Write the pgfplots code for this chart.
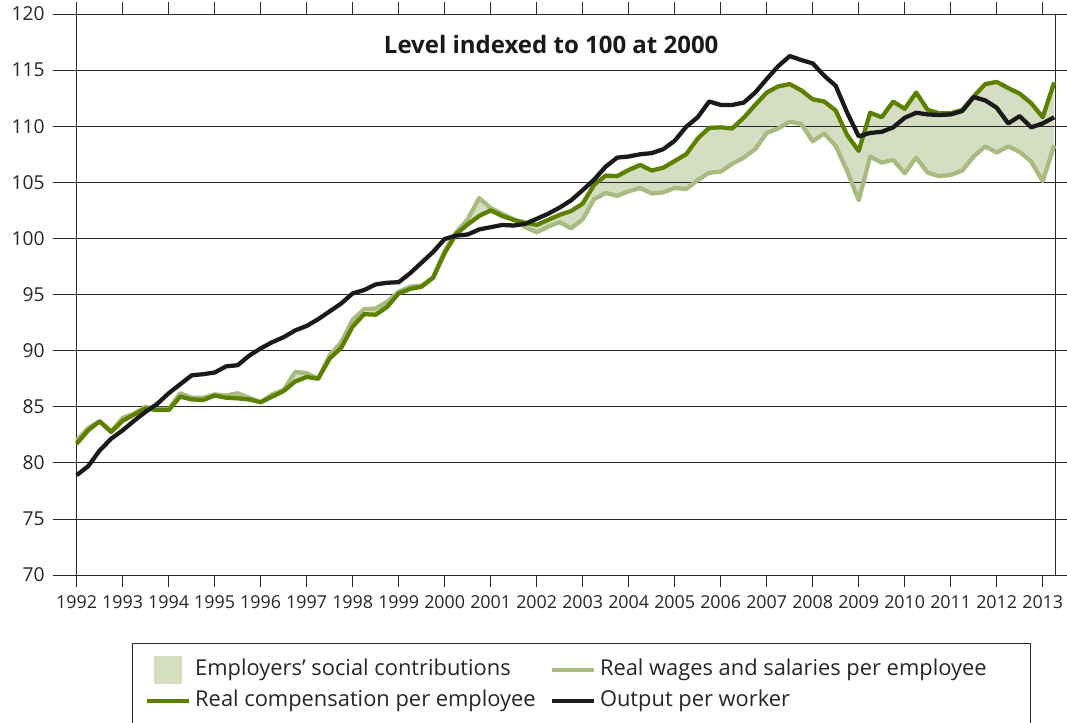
\documentclass[border=0pt]{standalone}
\usepackage{pgfplots}
\pgfplotsset{compat=1.18}
\usepackage{pgfplotstable}
\usepgfplotslibrary{fillbetween}
\usepackage{fontspec}
\setmainfont{Open Sans}
\definecolor{comp}{RGB}{92,128,0}
\definecolor{wage}{RGB}{170,186,128}
\definecolor{soc}{RGB}{213,222,195}
\definecolor{outp}{RGB}{26,26,26}
\definecolor{gridc}{RGB}{40,40,40}

\pgfplotsset{
  legsoc/.style={legend image code/.code={\fill[soc] (5.6pt,-10.1pt) rectangle (25.9pt,10.1pt);}},
  legwage/.style={legend image code/.code={\draw[wage, line width=3.2pt] (0pt,0pt) -- (31.5pt,0pt);}},
  legcomp/.style={legend image code/.code={\draw[comp, line width=3.2pt] (0pt,0pt) -- (31.5pt,0pt);}},
  legout/.style={legend image code/.code={\draw[outp, line width=3.2pt] (0pt,0pt) -- (31.5pt,0pt);}},
}

% quarter index q: 0 = 1992Q1 ... 85 = 2013Q2
\pgfplotstableread{
q out comp wage
0 78.9 81.7 82.0
1 79.7 82.9 83.1
2 81.1 83.7 83.7
3 82.15 82.75 82.8
4 82.9 83.75 84.0
5 83.75 84.3 84.4
6 84.55 84.85 85.0
7 85.25 84.7 84.8
8 86.2 84.7 84.8
9 87.0 85.9 86.2
10 87.8 85.65 85.8
11 87.9 85.6 85.8
12 88.05 86.0 86.1
13 88.6 85.8 86.0
14 88.7 85.75 86.2
15 89.55 85.65 85.8
16 90.2 85.4 85.4
17 90.75 85.9 86.1
18 91.2 86.4 86.5
19 91.8 87.25 88.1
20 92.2 87.65 88.0
21 92.8 87.5 87.5
22 93.5 89.3 89.6
23 94.2 90.25 90.75
24 95.1 92.15 92.75
25 95.4 93.25 93.7
26 95.9 93.2 93.75
27 96.05 93.9 94.35
28 96.1 95.1 95.25
29 96.9 95.5 95.7
30 97.85 95.7 95.8
31 98.8 96.5 96.55
32 99.95 98.7 98.9
33 100.25 100.4 100.55
34 100.35 101.25 101.7
35 100.8 102.0 103.6
36 101.0 102.5 102.7
37 101.2 102.0 102.2
38 101.15 101.65 101.7
39 101.3 101.4 101.0
40 101.75 101.2 100.55
41 102.2 101.65 101.05
42 102.75 102.1 101.45
43 103.4 102.45 100.9
44 104.3 103.1 101.7
45 105.25 104.8 103.5
46 106.4 105.6 104.05
47 107.2 105.55 103.8
48 107.3 106.1 104.2
49 107.5 106.55 104.5
50 107.6 106.05 104.0
51 107.95 106.3 104.1
52 108.7 106.9 104.5
53 109.95 107.5 104.4
54 110.8 108.9 105.2
55 112.2 109.85 105.85
56 111.9 109.9 105.95
57 111.9 109.8 106.65
58 112.1 110.75 107.2
59 113.0 111.9 107.95
60 114.2 113.0 109.4
61 115.35 113.55 109.8
62 116.25 113.75 110.4
63 115.9 113.2 110.2
64 115.6 112.4 108.65
65 114.5 112.2 109.35
66 113.6 111.4 108.25
67 111.2 109.2 106.0
68 109.1 107.8 103.4
69 109.4 111.2 107.3
70 109.5 110.8 106.75
71 109.9 112.2 107.0
72 110.75 111.55 105.8
73 111.2 113.0 107.2
74 111.05 111.45 105.85
75 111.0 111.15 105.55
76 111.05 111.15 105.65
77 111.35 111.45 106.05
78 112.6 112.65 107.3
79 112.3 113.75 108.2
80 111.65 113.95 107.65
81 110.25 113.4 108.2
82 110.9 112.9 107.7
83 109.9 112.05 106.85
84 110.25 110.8 105.1
85 110.8 113.9 108.3
}\datatable

\begin{document}
\begin{tikzpicture}
\begin{axis}[
  at={(0pt,0pt)}, anchor=south west,
  scale only axis, width=733.7pt, height=420.75pt,
  xmin=0, xmax=85.07, ymin=70, ymax=120,
  xtick={0,4,...,84},
  xticklabels={1992,1993,1994,1995,1996,1997,1998,1999,2000,2001,2002,2003,2004,2005,2006,2007,2008,2009,2010,2011,2012,2013},
  ytick={70,75,...,120},
  minor ytick={70,75,...,120},
  ymajorgrids,
  grid style={gridc, line width=0.6pt},
  axis line style={gridc, line width=0.6pt},
  tick align=outside,
  major tick length=9pt,
  minor tick length=18pt,
  xtick style={gridc, line width=0.6pt},
  major y tick style={draw=none},
  minor y tick style={gridc, line width=0.6pt},
  x tick label style={font=\fontsize{13.4}{16}\selectfont, text=black!85, yshift=-3pt},
  y tick label style={font=\fontsize{14.4}{17}\selectfont, text=black!85, xshift=-11.5pt},
  /pgf/number format/assume math mode=true,
  set layers,
  fill between/on layer=axis background,
  legend columns=2,
  legend cell align=left,
  legend style={
    draw=none, fill=none, inner sep=0pt, outer sep=0pt,
    at={(axis description cs:0.0698,-0.1418)}, anchor=north west,
    font=\fontsize{16.4}{19}\selectfont,
    row sep=0pt,
    nodes={inner xsep=0pt, inner ysep=3.6pt, text height=12pt, text depth=4pt, text=black!85},
    /tikz/every odd column/.append style={column sep=3pt},
    /tikz/every even column/.append style={column sep=10.5pt},
  },
  clip=false,
]
\addlegendimage{legsoc}
\addlegendimage{legwage}
\addlegendimage{legcomp}
\addlegendimage{legout}
\legend{Employers’ social contributions, Real wages and salaries per employee, Real compensation per employee, Output per worker}

\addplot[name path=wage, wage, line width=3.2pt, line join=round, forget plot] table[x=q, y=wage] {\datatable};
\addplot[name path=comp, comp, line width=3.2pt, line join=round, forget plot] table[x=q, y=comp] {\datatable};
\addplot[outp, line width=3.2pt, line join=round, forget plot] table[x=q, y=out] {\datatable};
\addplot[soc, draw=none, forget plot] fill between[of=comp and wage];

\node[font=\bfseries\fontsize{18}{21}\selectfont, text=black!90] at (axis description cs:0.485,0.9465) {Level indexed to 100 at 2000};
\draw[gridc, line width=0.6pt] (axis description cs:0.0572,-0.1212) rectangle (axis description cs:0.9745,-0.31);
\end{axis}
\pgfresetboundingbox
\path[use as bounding box] (-57.5pt,-110.25pt) rectangle (742.7pt,431.25pt);
\end{tikzpicture}
\end{document}
